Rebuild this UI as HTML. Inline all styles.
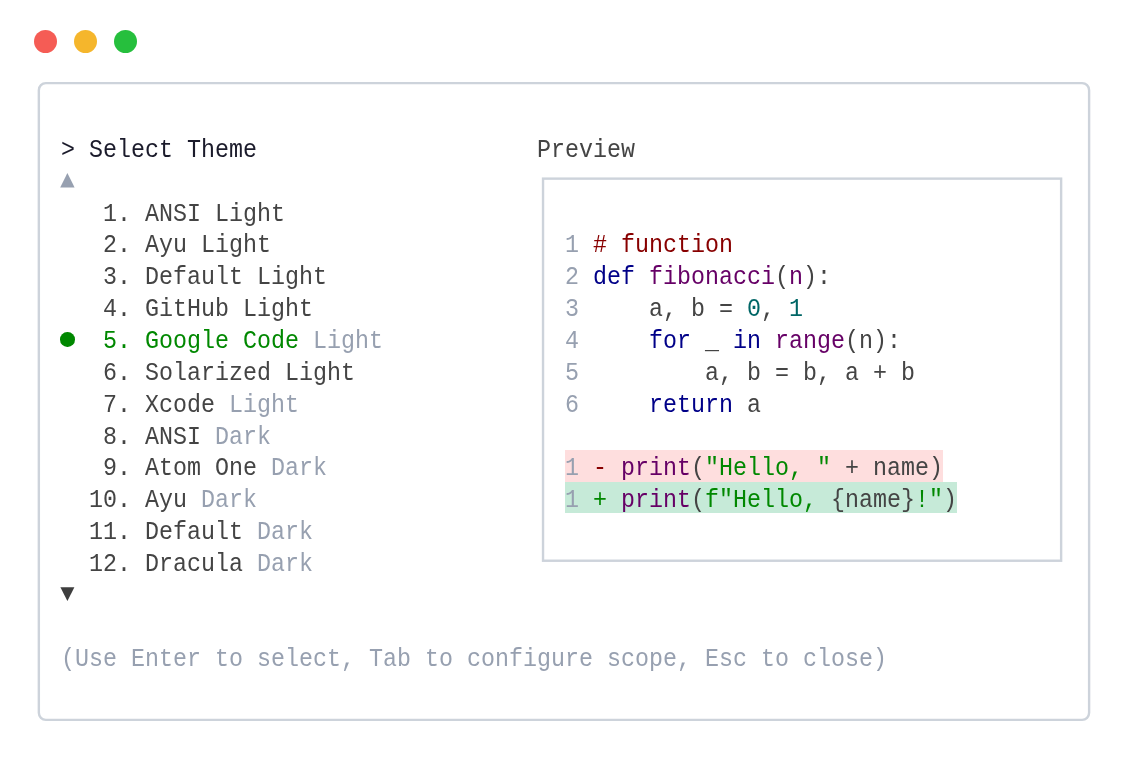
<!DOCTYPE html>
<html>
<head>
<meta charset="utf-8">
<style>
html,body{margin:0;padding:0;background:#fff;width:1129px;height:757px;overflow:hidden;position:relative}
.dot{position:absolute;top:30px;width:23px;height:23px;border-radius:50%}
.diff{position:absolute;height:31.85px}
.ln{position:absolute;height:31.85px;font-family:"Liberation Mono",monospace;font-size:23.333px;line-height:31.85px;white-space:pre;color:#444;margin-top:4.68px;transform:scaleY(1.1);transform-origin:0 21.93px;will-change:transform}
.g{color:#97a0b0}
.sel{color:#1b1b2b}
.pv{color:#444}
.grn{color:#080}
.cm{color:#800}
.kw{color:#008}
.ti{color:#606}
.nu{color:#066}
.st{color:#080}
</style>
</head>
<body>
<div class="dot" style="left:34px;background:#f55c55"></div>
<div class="dot" style="left:74px;background:#f5b62c"></div>
<div class="dot" style="left:114px;background:#26bf3d"></div>
<svg style="position:absolute;left:0;top:0" width="1129" height="757"><rect x="38.84" y="83.13" width="1050.27" height="636.7" rx="7" fill="none" stroke="#cdd3db" stroke-width="2.4"/><rect x="543.03" y="178.63" width="518.1" height="382.1" fill="none" stroke="#cdd3db" stroke-width="2.4"/></svg>
<div class="diff" style="left:564.50px;top:449.70px;width:378.00px;background:#fedede"></div>
<div class="diff" style="left:564.50px;top:481.55px;width:392.00px;background:#c6ead8"></div>
<div class="ln" style="left:60.50px;top:131.20px"><span class="sel">&gt; Select Theme</span></div>
<div class="ln" style="left:60.50px;top:194.90px">   1. ANSI Light</div>
<div class="ln" style="left:60.50px;top:226.75px">   2. Ayu Light</div>
<div class="ln" style="left:60.50px;top:258.60px">   3. Default Light</div>
<div class="ln" style="left:60.50px;top:290.45px">   4. GitHub Light</div>
<div class="ln" style="left:60.50px;top:322.30px"><span class="grn">   5. Google Code</span> <span class="g">Light</span></div>
<div class="ln" style="left:60.50px;top:354.15px">   6. Solarized Light</div>
<div class="ln" style="left:60.50px;top:386.00px">   7. Xcode <span class="g">Light</span></div>
<div class="ln" style="left:60.50px;top:417.85px">   8. ANSI <span class="g">Dark</span></div>
<div class="ln" style="left:60.50px;top:449.70px">   9. Atom One <span class="g">Dark</span></div>
<div class="ln" style="left:60.50px;top:481.55px">  10. Ayu <span class="g">Dark</span></div>
<div class="ln" style="left:60.50px;top:513.40px">  11. Default <span class="g">Dark</span></div>
<div class="ln" style="left:60.50px;top:545.25px">  12. Dracula <span class="g">Dark</span></div>
<div class="ln" style="left:60.50px;top:640.80px"><span class="g">(Use Enter to select, Tab to configure scope, Esc to close)</span></div>
<div class="ln" style="left:536.50px;top:131.20px"><span class="pv">Preview</span></div>
<div class="ln" style="left:564.50px;top:226.75px"><span class="g">1</span> <span class="cm"># function</span></div>
<div class="ln" style="left:564.50px;top:258.60px"><span class="g">2</span> <span class="kw">def</span> <span class="ti">fibonacci</span>(<span class="ti">n</span>):</div>
<div class="ln" style="left:564.50px;top:290.45px"><span class="g">3</span>     a, b = <span class="nu">0</span>, <span class="nu">1</span></div>
<div class="ln" style="left:564.50px;top:322.30px"><span class="g">4</span>     <span class="kw">for</span> _ <span class="kw">in</span> <span class="ti">range</span>(n):</div>
<div class="ln" style="left:564.50px;top:354.15px"><span class="g">5</span>         a, b = b, a + b</div>
<div class="ln" style="left:564.50px;top:386.00px"><span class="g">6</span>     <span class="kw">return</span> a</div>
<div class="ln" style="left:564.50px;top:449.70px"><span class="g">1</span> <span class="cm">-</span> <span class="ti">print</span>(<span class="st">"Hello, "</span> + name)</div>
<div class="ln" style="left:564.50px;top:481.55px"><span class="g">1</span> <span class="st">+</span> <span class="ti">print</span>(<span class="st">f"Hello, </span>{name}<span class="st">!"</span>)</div>
<div style="position:absolute;left:60.2px;top:332px;width:14.6px;height:14.6px;border-radius:50%;background:#080"></div>
<svg style="position:absolute;left:0;top:0" width="1129" height="757"><polygon points="60.2,187.4 74.6,187.4 67.4,172.9" fill="#97a0b0"/><polygon points="60.4,587.2 74.4,587.2 67.4,601.0" fill="#3e3e3e"/></svg>
</body>
</html>
